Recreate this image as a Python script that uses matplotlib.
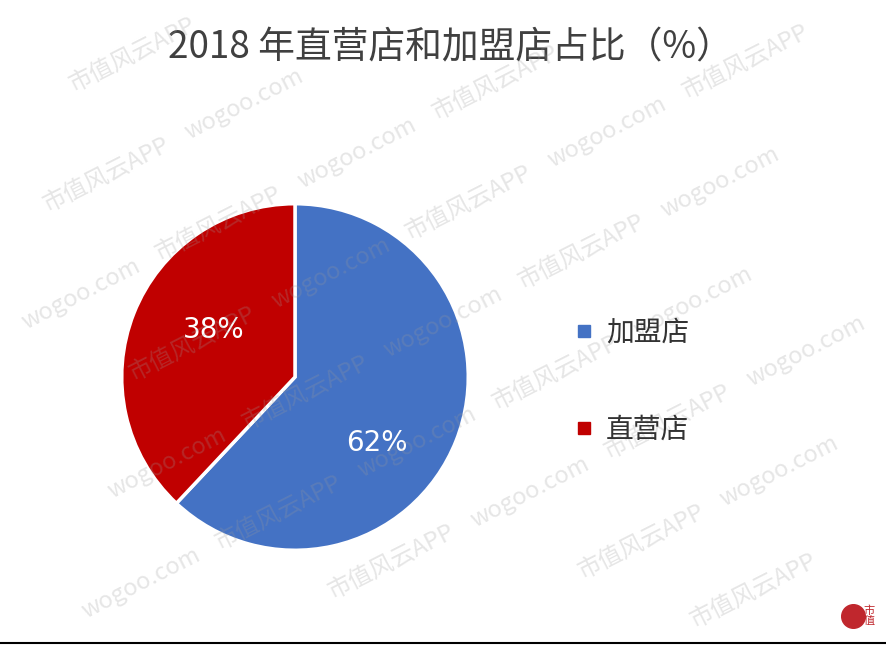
import numpy as np
import matplotlib.pyplot as plt
from matplotlib.lines import Line2D

plt.rcParams['font.family'] = ['Noto Sans CJK SC', 'DejaVu Sans']

TITLE = "2018 年直营店和加盟店占比（%）"
LABELS = ["加盟店", "直营店"]
SHARES = [62, 38]
COLORS = ["#4472C4", "#C00000"]
WATERMARKS = ["wogoo.com", "市值风云APP"]

W, H = 887, 645
fig = plt.figure(figsize=(W / 100, H / 100), dpi=100)
fig.patch.set_facecolor("white")

# pie axes: centre ~(295, 377) px, radius ~175 px
cx, cy, r = 295, 377, 175
ax = fig.add_axes([(cx - r) / W, (H - cy - r) / H, 2 * r / W, 2 * r / H])
wedges, texts, autotexts = ax.pie(
    SHARES, colors=COLORS, startangle=90, counterclock=False,
    autopct="%d%%", pctdistance=0.6, radius=1.0,
    wedgeprops=dict(edgecolor="white", linewidth=2.5),
    textprops=dict(color="white", fontsize=20),
)
# nudge the percentage labels to where they sit in the reference
autotexts[0].set_position((0.47, -0.38))
autotexts[1].set_position((-0.47, 0.27))
for t in autotexts:
    t.set_family(["DejaVu Sans"])
ax.set_xlim(-1.01, 1.01)
ax.set_ylim(-1.01, 1.01)
ax.set_aspect("equal")
ax.axis("off")

fig.text(450 / W, 1 - 48 / H, TITLE, ha="center", va="center",
         fontsize=26.5, color="#404040")

handles = [Line2D([0], [0], marker="s", linestyle="none", markersize=9,
                  markerfacecolor=c, markeredgecolor=c) for c in COLORS]
fig.legend(handles, LABELS, loc="center left",
           bbox_to_anchor=(545 / W, 1 - 381 / H), frameon=False,
           fontsize=20, labelspacing=2.4, handletextpad=0.3,
           handlelength=1.0, labelcolor="#333333")

# faint diagonal watermark pattern (only copies that fit inside the image)
ang = np.deg2rad(27)
d = np.array([np.cos(ang), np.sin(ang)])
nrm = np.array([-np.sin(ang), np.cos(ang)])
for k in range(-8, 9):
    for j in range(-8, 9):
        p = np.array([W / 2, H / 2]) + d * j * 155 + nrm * k * 95 + d * (k % 2) * 77
        if 70 < p[0] < W - 70 and 40 < p[1] < H - 40:
            txt = WATERMARKS[(j + k) % 2]
            fig.text(p[0] / W, p[1] / H, txt, rotation=27, ha="center",
                     va="center", fontsize=17, color="#9a9a9a", alpha=0.25,
                     zorder=5)

# small logo, bottom right
fig.add_artist(Line2D([853 / W], [1 - 616 / H], marker="o", markersize=17,
                      color="#C0272D", linestyle="none", zorder=6))
fig.text(869 / W, 1 - 616 / H, "市\n值", ha="center", va="center",
         fontsize=8, color="#C0272D", linespacing=1.0, zorder=6)

# bottom border line
fig.add_artist(Line2D([0, 1], [2.5 / H, 2.5 / H], color="black", linewidth=1.5))

fig.savefig("out.png", dpi=100, facecolor="white")
